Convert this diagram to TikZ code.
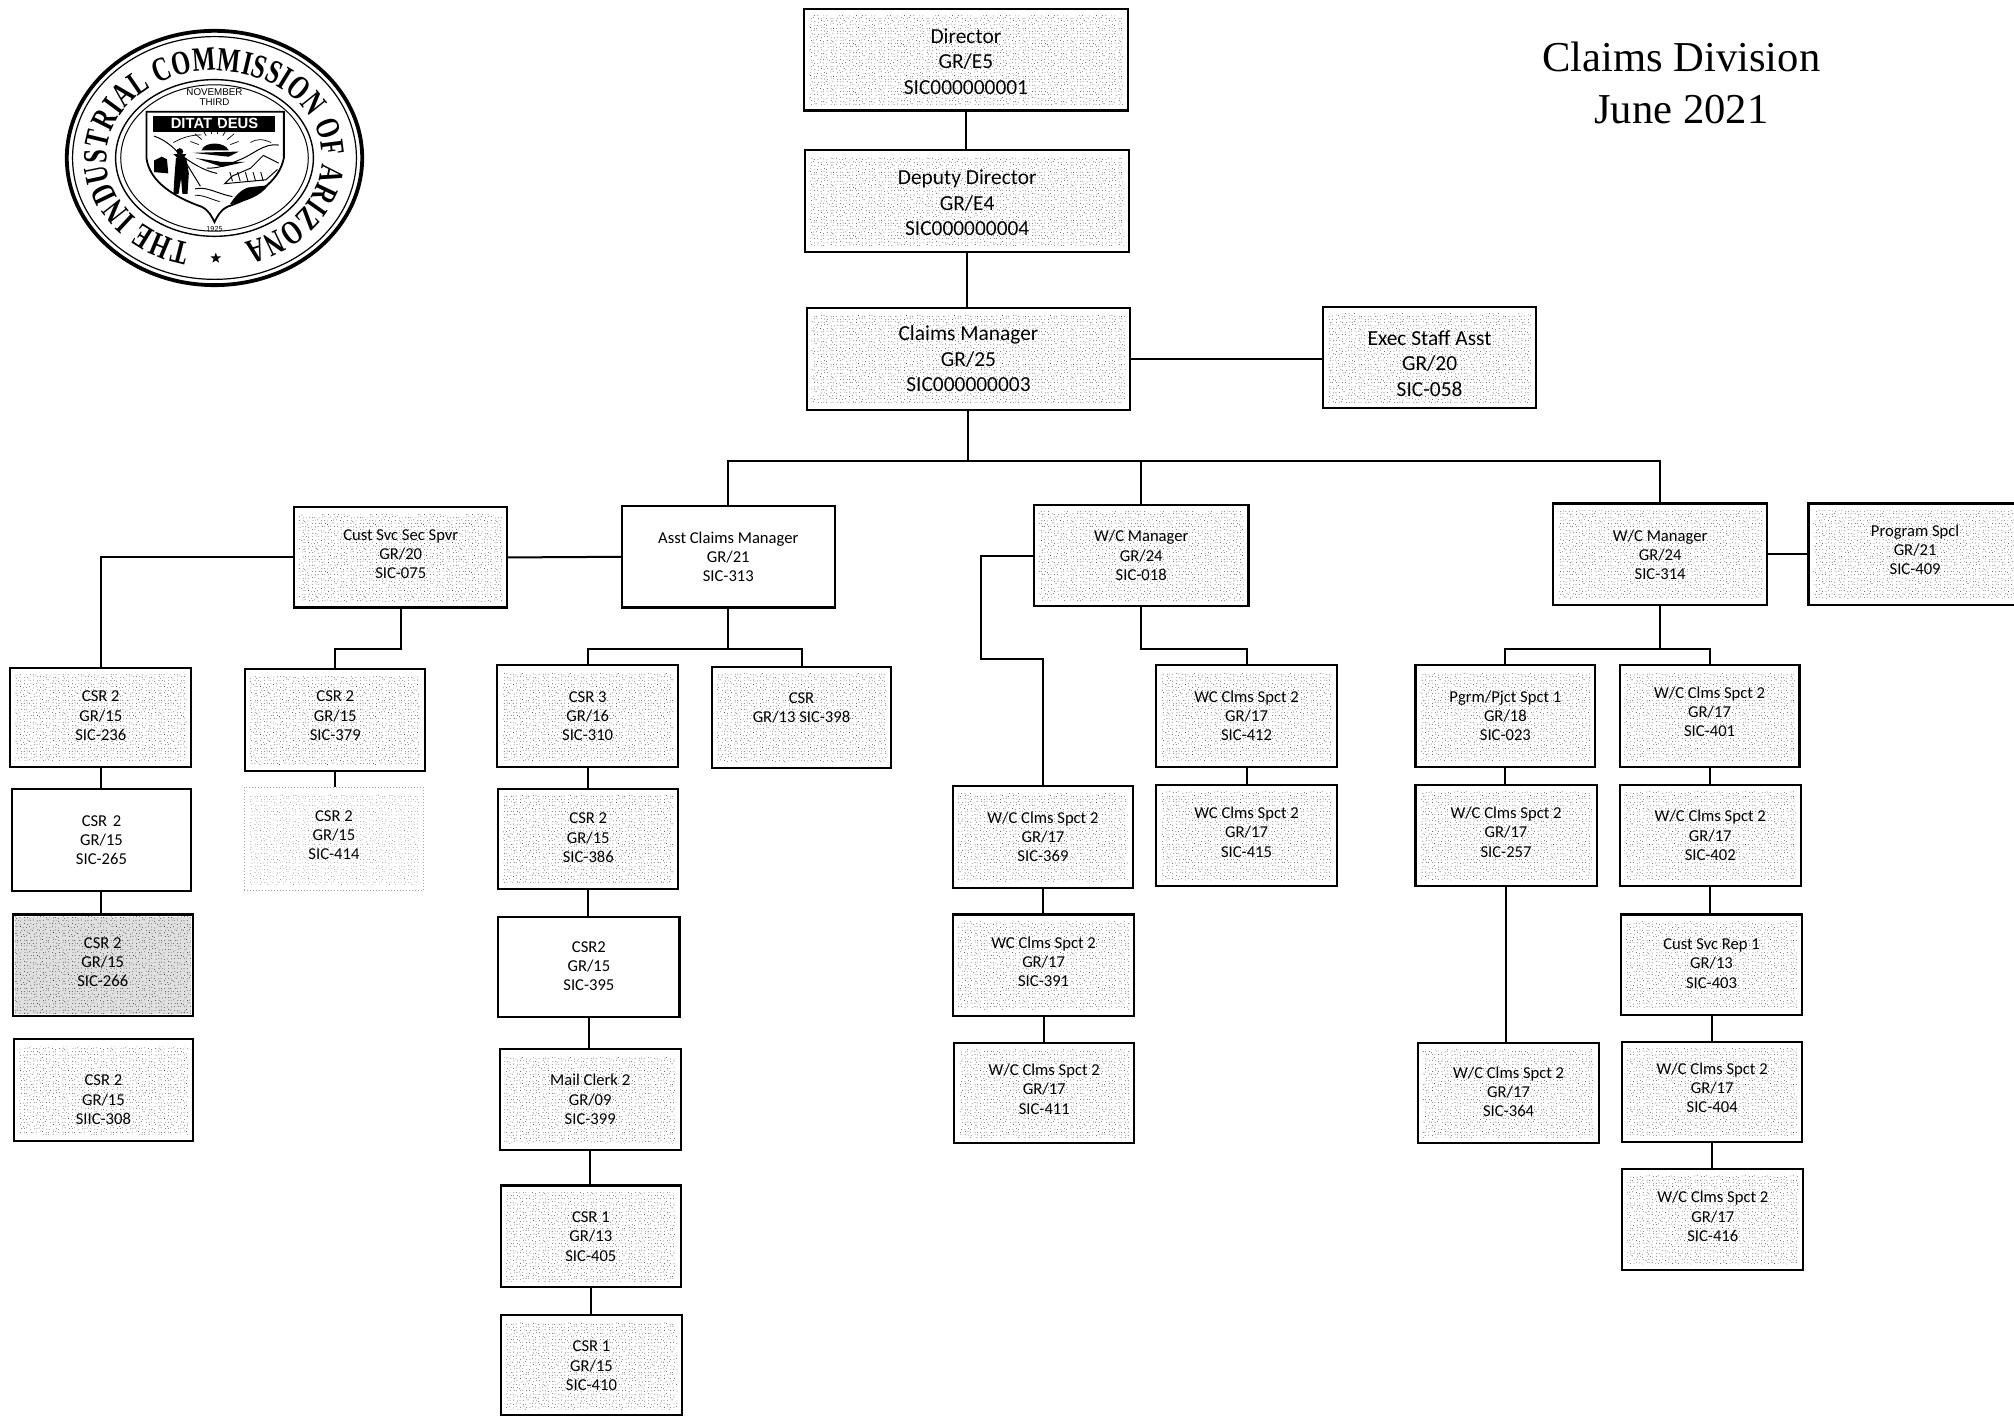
\documentclass[tikz,border=0pt]{standalone}
\usepackage{fontspec}
\setmainfont{Carlito}
\newfontfamily\titlefont{Liberation Serif}
\newfontfamily\sealserif[FakeStretch=0.72]{Liberation Serif}
\newfontfamily\sealsans{Liberation Sans}
\usetikzlibrary{calc,patterns,decorations.text,shapes.geometric}
% stipple tile: jittered dots
\pgfmathsetseed{4711}
\pgfdeclarepatternformonly{stipL}{\pgfqpoint{-1pt}{-1pt}}{\pgfqpoint{25pt}{25pt}}{\pgfqpoint{24pt}{24pt}}{%
  \foreach \i in {0,...,14}{\foreach \j in {0,...,14}{%
    \pgfmathsetmacro\px{(\i+0.2+0.6*rnd)*1.6}\pgfmathsetmacro\py{(\j+0.2+0.6*rnd)*1.6}%
    \pgfpathcircle{\pgfqpoint{\px pt}{\py pt}}{0.2pt}\pgfusepath{fill}}}}
\newcommand\bx[8][stipbox]{%
  \pgfmathsetlengthmacro\bxd{-(#7)*0.6422pt}%
  \node[#1,minimum width={(#5-#3)*0.6422pt},minimum height={(#6-#4)*0.6422pt}] (#2) at ({(#3+#5)/2},{(#4+#6)/2})
    {\raisebox{\dimexpr\bxd-.35em\relax}[0pt][0pt]{\begin{tabular}{@{}c@{}}#8\end{tabular}}};}
\tikzset{
  base/.style={rectangle,draw=black,line width=1.05pt,inner sep=0pt,outer sep=0pt,fill=white},
  small/.style={font=\fontsize{8.3}{9.6}\selectfont},
  big/.style={font=\fontsize{10.7}{12.8}\selectfont},
  stipple/.style={path picture={\fill[pattern=stipL,pattern color=#1]
     ([shift={(2.5pt,3pt)}]path picture bounding box.south west) rectangle ([shift={(-2.5pt,-3.5pt)}]path picture bounding box.north east);}},
  darkstipple/.style={path picture={
     \fill[black!12] ([shift={(1pt,1pt)}]path picture bounding box.south west) rectangle ([shift={(-1pt,-1pt)}]path picture bounding box.north east);
     \fill[pattern=stipL,pattern color=black] ([shift={(1pt,1pt)}]path picture bounding box.south west) rectangle ([shift={(-1pt,-1pt)}]path picture bounding box.north east);}},
  stipbox/.style={base,small,stipple=black!85},
  bigbox/.style={base,big,stipple=black!85},
  plainbox/.style={base,small},
  darkbox/.style={base,small,darkstipple},
  faintbox/.style={rectangle,draw=black!35,densely dotted,line width=.5pt,inner sep=0pt,outer sep=0pt,small,stipple=black!55},
  link/.style={draw=black,line width=1pt}
}
\begin{document}
\begin{tikzpicture}[x=0.6422pt,y=-0.6422pt]
\useasboundingbox (0,0) rectangle (1568,1101.7);
% title
\node[font=\titlefont\fontsize{21.3}{25.7}\selectfont,align=center] (title) at (1309,64.5) {Claims Division\\June 2021};
% seal
\begin{scope}[shift={(167,123)},x=0.6422pt,y=0.6422pt]
  \draw[line width=1.9pt] (0,0) ellipse [x radius=115,y radius=99];
  \draw[line width=.6pt] (0,0) ellipse [x radius=110.5,y radius=94.5];
  \draw[line width=.7pt] (0,0) ellipse [x radius=77,y radius=61];
  \draw[line width=.5pt] (0,0) ellipse [x radius=73,y radius=57];
  \path[decorate,decoration={text along path,text align={fit to path},
     text={|\sealserif\bfseries\fontsize{17}{17}\selectfont|THE INDUSTRIAL COMMISSION OF ARIZONA}}]
     (0,0) ++(257:84 and 68) arc[start angle=257,end angle=-74,x radius=84,y radius=68];
  \node[star,star points=5,star point ratio=2.4,fill=black,inner sep=0pt,minimum size=5.5pt] (sealstar) at (1,-78) {};
  \node[font=\sealsans\fontsize{4.9}{5}\selectfont,align=center] (sealnov) at (0,47.5) {NOVEMBER\\THIRD};
  \node[font=\sealsans\fontsize{3.6}{4}\selectfont] (sealyear) at (0,-55) {1925};
  % shield
  \draw[line width=.9pt,fill=white] (-53,36) -- (54,36) -- (54,0)
     .. controls (51,-15) and (38,-28) .. (10,-38) .. controls (4,-41) and (2,-46) .. (0,-50)
     .. controls (-2,-46) and (-4,-41) .. (-10,-38) .. controls (-38,-28) and (-51,-15) .. (-53,0) -- cycle;
  \fill[black] (-48,33) rectangle (47,20.5);
  \node[font=\sealsans\bfseries\fontsize{7.4}{8}\selectfont,text=white] (sealmotto) at (0,26.7) {DITAT\,\,DEUS};
  % sun and horizon
  \fill[black] (-10,6) .. controls (-8,13) and (8,13) .. (11,6) -- cycle;
  \foreach \a in {20,40,...,160}{\draw[line width=.35pt] ($(0,6)+(\a:13)$) -- ($(0,6)+(\a:20)$);}
  \fill[black] (-17,4) -- (19,5) -- (11,1) -- cycle;
  \fill[black] (-15,0) -- (6,-7) -- (24,-3) -- (5,-3) -- cycle;
  % mountains and valley
  \draw[line width=.5pt] (-47,17) .. controls (-38,14) and (-32,8) .. (-27,3) .. controls (-18,-4) and (-8,-10) .. (2,-12);
  \draw[line width=.5pt] (50,10) .. controls (38,12) and (30,2) .. (18,-2) .. controls (10,-6) and (2,-8) .. (-6,-8);
  \draw[line width=.5pt] (50,-4) -- (38,2) -- (28,-8) -- (14,-14) -- (8,-20) -- (40,-17) -- (49,-9);
  \draw[line width=.35pt] (28,12) .. controls (32,15) and (38,15) .. (44,12);
  \draw[line width=.35pt] (-32,12) .. controls (-25,16) and (-18,18) .. (-10,18);
  \foreach \x in {12,18,...,36}{\draw[line width=.45pt] (\x,-11) -- ++(2,-7);}
  % miner and ore dump
  \fill[black] (-47,-2) -- (-41,1) -- (-37,-1) -- (-36,-12) -- (-47,-11) -- cycle;
  \fill[black] (-27,5) circle (2.6) (-32,3) -- (-22,3) -- (-24,0) -- (-29,0) -- cycle;
  \fill[black] (-30,0) -- (-22,0) -- (-20,-12) -- (-21,-28) -- (-25,-28) -- (-26,-16) -- (-28,-28) -- (-32,-28) -- (-31,-12) -- cycle;
  \draw[line width=.5pt] (-22,-4) -- (-11,-22);
  \draw[line width=.5pt] (-15,-24) .. controls (-5,-22) and (2,-28) .. (14,-30);
  \draw[line width=.4pt] (-15,-29) .. controls (-8,-29) and (-3,-32) .. (4,-34);
  % dark foreground
  \fill[black] (12,-36) .. controls (16,-30) and (20,-25) .. (26,-23) .. controls (32,-22) and (38,-22) .. (42,-21) .. controls (36,-30) and (24,-34) .. cycle;
\end{scope}
% top of the chart
\bx[bigbox]{dir}{626}{7}{878}{86}{1.5}{Director\\GR/E5\\SIC000000001}
\bx[bigbox]{dep}{627}{117}{879}{196}{1.5}{Deputy Director\\GR/E4\\SIC000000004}
\bx[bigbox]{cm}{628}{240}{880}{319}{0}{Claims Manager\\GR/25\\SIC000000003}
\bx[bigbox]{exec}{1030}{239}{1196}{318}{4.5}{Exec Staff Asst\\GR/20\\SIC-058}
% managers
\bx{cust}{229}{395}{395}{473}{-3}{Cust Svc Sec Spvr\\GR/20\\SIC-075}
\bx[plainbox]{asst}{484}{394}{650}{473}{0}{Asst Claims Manager\\GR/21\\SIC-313}
\bx{wca}{805}{393}{972}{472}{0}{W/C Manager\\GR/24\\SIC-018}
\bx{wcb}{1209}{392}{1376}{471}{0.5}{W/C Manager\\GR/24\\SIC-314}
\bx{prog}{1408}{392}{1574}{471}{-3.5}{Program Spcl\\GR/21\\SIC-409}
% column 1
\bx{a1}{8}{520}{149}{597}{-1.5}{CSR 2\\GR/15\\SIC-236}
\bx[plainbox]{a2}{9}{614}{149}{694}{0}{CSR\,\,2\\GR/15\\SIC-265}
\bx[darkbox]{a3}{10}{712}{150}{791}{-2.5}{CSR 2\\GR/15\\SIC-266}
\bx{a4}{11}{809}{150}{888}{7.5}{CSR 2\\GR/15\\SIIC-308}
% column 2
\bx{b1}{191}{521}{331}{600}{-3.5}{CSR 2\\GR/15\\SIC-379}
\bx[faintbox]{b2}{190}{613}{330}{693}{-3}{CSR 2\\GR/15\\SIC-414}
% column 3
\bx{c1}{387}{518}{528}{597}{0}{CSR 3\\GR/16\\SIC-310}
\bx{c2}{388}{614}{528}{692}{-1}{CSR 2\\GR/15\\SIC-386}
\bx[plainbox]{c3}{388}{714}{529}{792}{-1}{CSR2\\GR/15\\SIC-395}
\bx{c4}{389}{817}{530}{895}{0}{Mail Clerk 2\\GR/09\\SIC-399}
\bx{c5}{390}{923}{530}{1002}{0}{CSR 1\\GR/13\\SIC-405}
\bx{c6}{390}{1024}{531}{1102}{0}{CSR 1\\GR/15\\SIC-410}
\bx{d1}{554}{519}{694}{598}{-8}{CSR\\GR/13 SIC-398}
% column W/C a
\bx{e1}{742}{612}{882}{691}{0}{W/C Clms Spct 2\\GR/17\\SIC-369}
\bx{e2}{742}{712}{883}{791}{-2.5}{WC Clms Spct 2\\GR/17\\SIC-391}
\bx{e3}{743}{812}{883}{890}{-3}{W/C Clms Spct 2\\GR/17\\SIC-411}
\bx{f1}{900}{518}{1041}{597}{0}{WC Clms Spct 2\\GR/17\\SIC-412}
\bx{f2}{900}{611}{1041}{690}{-2.5}{WC Clms Spct 2\\GR/17\\SIC-415}
% column W/C b
\bx{g1}{1102}{518}{1242}{597}{0}{Pgrm/Pjct Spct 1\\GR/18\\SIC-023}
\bx{g2}{1102}{611}{1243}{690}{-2.5}{W/C Clms Spct 2\\GR/17\\SIC-257}
\bx{g3}{1104}{812}{1245}{890}{-1}{W/C Clms Spct 2\\GR/17\\SIC-364}
\bx{h1}{1261}{518}{1401}{597}{-3.5}{W/C Clms Spct 2\\GR/17\\SIC-401}
\bx{h2}{1261}{611}{1402}{690}{0}{W/C Clms Spct 2\\GR/17\\SIC-402}
\bx{h3}{1262}{712}{1403}{790}{-1}{Cust Svc Rep 1\\GR/13\\SIC-403}
\bx{h4}{1263}{811}{1403}{889}{-3}{W/C Clms Spct 2\\GR/17\\SIC-404}
\bx{h5}{1263}{910}{1404}{989}{-2.5}{W/C Clms Spct 2\\GR/17\\SIC-416}
% junctions
\coordinate (bus) at (754,359);
\coordinate (jcust) at (312,505);
\coordinate (jasst) at (567,505);
\coordinate (jwca) at (764,513);
\coordinate (jwcb) at (888.5,505);
\coordinate (jwcc) at (1292.5,505);
% connectors
\draw[link] (dir.south) -- (dir.south |- dep.north);
\draw[link] (dep.south) -- (dep.south |- cm.north);
\draw[link] (cm.east) -- (cm.east -| exec.west);
\draw[link] (cm.south) -- (bus);
\draw[link] (asst.north) |- (bus) -| (wcb.north);
\draw[link] (bus) -| (wca.north);
\draw[link] (cust.east) -- (asst.west);
\draw[link] (cust.west) -| (a1.north);
\draw[link] (a1.south) -- (a1.south |- a2.north);
\draw[link] (a2.south) -- (a2.south |- a3.north);
\draw[link] (cust.south) -- (jcust) -| (b1.north);
\draw[link] (b1.south) -- (b1.south |- b2.north);
\draw[link] (asst.south) -- (jasst) -| (c1.north);
\draw[link] (jasst) -| (d1.north);
\draw[link] (c1.south) -- (c1.south |- c2.north);
\draw[link] (c2.south) -- (c2.south |- c3.north);
\draw[link] (c3.south) -- (c3.south |- c4.north);
\draw[link] (c4.south) -- (c4.south |- c5.north);
\draw[link] (c5.south) -- (c5.south |- c6.north);
\draw[link] (wca.west) -| (jwca) -| (e1.north);
\draw[link] (e1.south) -- (e1.south |- e2.north);
\draw[link] (e2.south) -- (e2.south |- e3.north);
\draw[link] (wca.south) -- (jwcb) -| (f1.north);
\draw[link] (f1.south) -- (f1.south |- f2.north);
\draw[link] (wcb.south) -- (jwcc) -| (g1.north);
\draw[link] (jwcc) -| (h1.north);
\draw[link] (wcb.east) -- (prog.west);
\draw[link] (g1.south) -- (g1.south |- g2.north);
\draw[link] (g2.south) -- (g2.south |- g3.north);
\draw[link] (h1.south) -- (h1.south |- h2.north);
\draw[link] (h2.south) -- (h2.south |- h3.north);
\draw[link] (h3.south) -- (h3.south |- h4.north);
\draw[link] (h4.south) -- (h4.south |- h5.north);
\end{tikzpicture}
\end{document}
